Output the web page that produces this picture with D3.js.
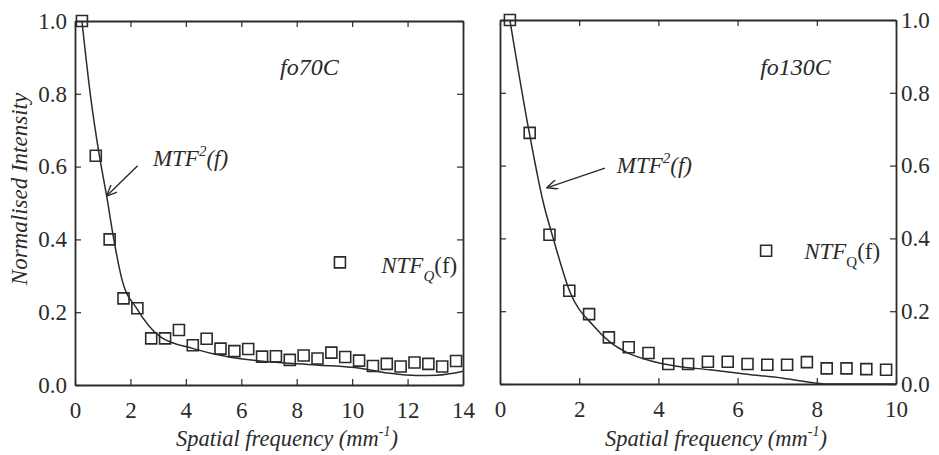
<!DOCTYPE html>
<html>
<head>
<meta charset="utf-8">
<script src="https://cdn.jsdelivr.net/npm/d3@7"></script>
<style>
  html, body { margin: 0; padding: 0; background: #fff; }
  svg { display: block; }
  text { font-family: "Liberation Serif", "Times New Roman", serif; fill: #2b2b2b; }
</style>
</head>
<body>
<svg id="chart" width="939" height="455"></svg>
<script>
// ---- data: fo70C (left panel) ----
const leftFreq = [0.25, 0.75, 1.25, 1.75, 2.25, 2.75, 3.25, 3.75, 4.25, 4.75,
                  5.25, 5.75, 6.25, 6.75, 7.25, 7.75, 8.25, 8.75, 9.25, 9.75,
                  10.25, 10.75, 11.25, 11.75, 12.25, 12.75, 13.25, 13.75];
const leftNTF  = [1.0, 0.63, 0.40, 0.238, 0.211, 0.128, 0.128, 0.151, 0.109, 0.127,
                  0.100, 0.093, 0.099, 0.078, 0.079, 0.069, 0.081, 0.073, 0.089, 0.077,
                  0.067, 0.052, 0.058, 0.051, 0.062, 0.058, 0.051, 0.066];
const leftCurveFreq = [0.25, 0.55, 0.88, 1.14, 1.40, 1.70, 2.23, 3.07, 4.27, 5.47,
                       6.68, 8.72, 10.29, 11.37, 12.33, 13.06, 14.0];
const leftMTF2      = [1.0, 0.80, 0.63, 0.52, 0.40, 0.288, 0.21, 0.133, 0.100, 0.078,
                       0.066, 0.055, 0.046, 0.032, 0.026, 0.027, 0.038];

// ---- data: fo130C (right panel) ----
const rightFreq = [0.25, 0.75, 1.25, 1.75, 2.25, 2.75, 3.25, 3.75, 4.25, 4.75,
                   5.25, 5.75, 6.25, 6.75, 7.25, 7.75, 8.25, 8.75, 9.25, 9.75];
const rightNTF  = [1.0, 0.69, 0.41, 0.256, 0.192, 0.128, 0.101, 0.085, 0.055, 0.055,
                   0.061, 0.061, 0.055, 0.053, 0.053, 0.060, 0.043, 0.043, 0.041, 0.039];
const rightCurveFreq = [0.25, 0.74, 1.09, 1.35, 1.77, 2.36, 2.78, 3.2, 3.79, 4.46,
                        5.3, 6.23, 7.15, 7.95, 8.2, 10.0];
const rightMTF2      = [1.0, 0.69, 0.50, 0.398, 0.252, 0.16, 0.115, 0.087, 0.064, 0.049,
                        0.039, 0.027, 0.016, 0.003, 0.0, 0.0];

// ---- tick values ----
const leftXTicks  = [0, 2, 4, 6, 8, 10, 12, 14];
const rightXTicks = [0, 2, 4, 6, 8, 10];
const yTicks      = [0.0, 0.2, 0.4, 0.6, 0.8, 1.0];

const ink = "#2b2b2b";
const serif = '"Liberation Serif", "Times New Roman", serif';
const fontSize = 23;
const svg = d3.select("#chart");

const panels = [
  {
    name: "fo70C", freq: leftFreq, ntf: leftNTF, cf: leftCurveFreq, mtf: leftMTF2,
    xTicks: leftXTicks, xMax: 14, px: [75, 463], py: [385, 21], yLabelSide: "left",
    title: [7.40, 0.852], mtfLabel: [2.81, 0.602], arrow: [[2.26, 0.602], [1.14, 0.519]],
    legendBox: [9.56, 0.337], ntfLabel: [11.05, 0.308], qItalic: true
  },
  {
    name: "fo130C", freq: rightFreq, ntf: rightNTF, cf: rightCurveFreq, mtf: rightMTF2,
    xTicks: rightXTicks, xMax: 10, px: [500, 896], py: [384, 20], yLabelSide: "right",
    title: [6.57, 0.848], mtfLabel: [2.95, 0.58], arrow: [[2.65, 0.593], [1.18, 0.539]],
    legendBox: [6.72, 0.366], ntfLabel: [7.68, 0.343], qItalic: false
  }
];

// open arrowhead
svg.append("defs").append("marker")
  .attr("id", "arrowhead")
  .attr("viewBox", "0 0 12 10")
  .attr("refX", 11).attr("refY", 5)
  .attr("markerWidth", 12).attr("markerHeight", 10)
  .attr("markerUnits", "userSpaceOnUse")
  .attr("orient", "auto")
  .append("path")
  .attr("d", "M0,0 L11,5 L0,10")
  .attr("fill", "none").attr("stroke", ink).attr("stroke-width", 1.4);

const square = d3.symbol().type(d3.symbolSquare).size(121);

panels.forEach(p => {
  const x = d3.scaleLinear().domain([0, p.xMax]).range(p.px);
  const y = d3.scaleLinear().domain([0, 1]).range(p.py);
  const g = svg.append("g");
  const tickLen = 6;

  // inward ticks on all four sides
  const axes = [
    d3.axisBottom(x).tickValues(p.xTicks).tickSizeInner(-tickLen).tickSizeOuter(0).tickPadding(17),
    d3.axisTop(x).tickValues(p.xTicks).tickSizeInner(-tickLen).tickSizeOuter(0).tickFormat(""),
    d3.axisLeft(y).tickValues(yTicks).tickSizeInner(-tickLen).tickSizeOuter(0).tickPadding(8)
      .tickFormat(p.yLabelSide === "left" ? d3.format(".1f") : () => ""),
    d3.axisRight(y).tickValues(yTicks).tickSizeInner(-tickLen).tickSizeOuter(0).tickPadding(5)
      .tickFormat(p.yLabelSide === "right" ? d3.format(".1f") : () => "")
  ];
  const pos = [
    `translate(0,${p.py[0]})`, `translate(0,${p.py[1]})`,
    `translate(${p.px[0]},0)`, `translate(${p.px[1]},0)`
  ];
  axes.forEach((ax, i) => {
    const a = g.append("g").attr("transform", pos[i]).call(ax)
      .attr("font-family", serif).attr("font-size", fontSize);
    a.select(".domain").attr("stroke", ink).attr("stroke-width", 1.8);
    a.selectAll(".tick line").attr("stroke", ink).attr("stroke-width", 1.2);
    a.selectAll(".tick text").attr("fill", ink);
  });

  // MTF^2 curve
  const line = d3.line().x(d => x(d[0])).y(d => y(d[1])).curve(d3.curveMonotoneX);
  g.append("path")
    .datum(p.cf.map((f, i) => [f, p.mtf[i]]))
    .attr("d", line)
    .attr("fill", "none").attr("stroke", ink).attr("stroke-width", 1.5);

  // NTF_Q squares
  g.selectAll(".pt").data(p.freq.map((f, i) => [f, p.ntf[i]])).enter()
    .append("path").attr("class", "pt")
    .attr("transform", d => `translate(${x(d[0])},${y(d[1])})`)
    .attr("d", square)
    .attr("fill", "none").attr("stroke", ink).attr("stroke-width", 1.6);

  // sample name
  g.append("text")
    .attr("x", x(p.title[0])).attr("y", y(p.title[1]))
    .style("font-size", (fontSize + 1) + "px").style("font-style", "italic")
    .text(p.name);

  // MTF^2(f) label with arrow
  const mt = g.append("text")
    .attr("x", x(p.mtfLabel[0])).attr("y", y(p.mtfLabel[1]))
    .style("font-size", fontSize + "px").style("font-style", "italic");
  mt.append("tspan").text("MTF");
  mt.append("tspan").attr("dy", -10).style("font-size", "15px").text("2");
  mt.append("tspan").attr("dy", 10).text("(f)");

  g.append("line")
    .attr("x1", x(p.arrow[0][0])).attr("y1", y(p.arrow[0][1]))
    .attr("x2", x(p.arrow[1][0])).attr("y2", y(p.arrow[1][1]))
    .attr("stroke", ink).attr("stroke-width", 1.4)
    .attr("marker-end", "url(#arrowhead)");

  // NTF_Q(f) key
  g.append("path")
    .attr("transform", `translate(${x(p.legendBox[0])},${y(p.legendBox[1])})`)
    .attr("d", square)
    .attr("fill", "none").attr("stroke", ink).attr("stroke-width", 1.6);
  const nt = g.append("text")
    .attr("x", x(p.ntfLabel[0])).attr("y", y(p.ntfLabel[1]))
    .style("font-size", fontSize + "px");
  nt.append("tspan").style("font-style", "italic").text("NTF");
  nt.append("tspan").attr("dy", 8).style("font-size", "15px")
    .style("font-style", p.qItalic ? "italic" : "normal").text("Q");
  nt.append("tspan").attr("dy", -8).text("(f)");

  // x-axis title
  const xt = g.append("text")
    .attr("x", (p.px[0] + p.px[1]) / 2 + 18).attr("y", 446)
    .attr("text-anchor", "middle")
    .style("font-size", "22.5px").style("font-style", "italic");
  xt.append("tspan").text("Spatial frequency (mm");
  xt.append("tspan").attr("dy", -10).style("font-size", "14px").text("-1");
  xt.append("tspan").attr("dy", 10).text(")");
});

// y-axis title
svg.append("text")
  .attr("transform", "translate(27,189) rotate(-90)")
  .attr("text-anchor", "middle")
  .style("font-size", fontSize + "px").style("font-style", "italic")
  .text("Normalised  Intensity");
</script>
</body>
</html>
